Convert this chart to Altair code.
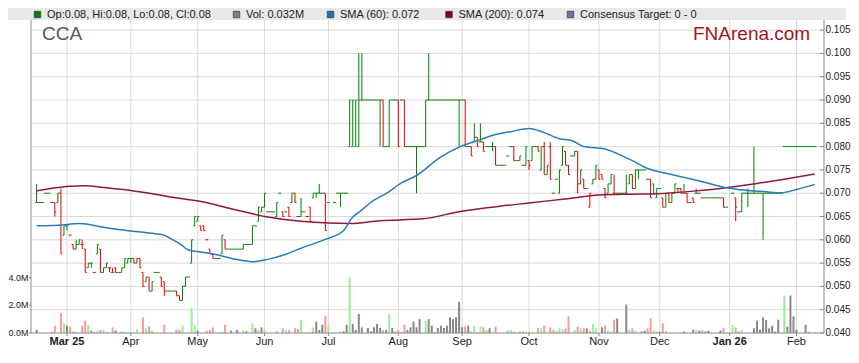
import altair as alt
import pandas as pd

# ---------------- data (prices in thousandths of a dollar, volume in thousands) -------------
START = -10  # weekday index of first bar (0 = 3 Mar 2025)

OPEN = [
    68, 68, 68, 70, 70, 68, 68, 68, 70, 61,
    63, 61, 59, 58, 59, 59, 58, 54, 55, 53,
    57, 58, 53, 54, 54, 53, 54, 53, 53, 54,
    55, 56, 56, 55, 56, 53, 51, 52, 49, 53,
    53, 52, 51, 49, 49, 49, 49, 48, 47, 50,
    52, 55, 63, 64, 63, 63, 60, 58, 57, 56,
    56, 57, 60, 58, 58, 58, 58, 58, 58, 59,
    59, 59, 63, 64, 66, 67, 66, 66, 66, 65,
    70, 66, 66, 67, 68, 70, 65, 65, 66, 65,
    67, 69, 70, 70, 70, 70, 68, None, 68, 70,
    70, 70, 70, 80, 80, 80, 80, 90, 90, 90,
    90, 90, 90, 90, 90, 80, 80, 90, 90, 90,
    90, 90, 80, 80, 80, 80, 80, 80, 80, 90,
    90, 90, 90, 90, 90, 90, 90, 90, 90, 90,
    90, 90, 80, 80, 81, 82, 81, 81, 80, 80,
    80, 80, 76, 76, 76, 78, 80, 80, 77, 77,
    76, 76, 77, 77, 80, 80, 75, 80, 74, 80,
    70, 73, 70, 76, 79, 76, 78, 78, 79, 72,
    73, 71, 67, 72, 73, 75, 74, 71, 70, 72,
    70, 70, 70, 70, 70, 72, 74, 71, 75, 75,
    75, 73, 73, 72, 69, 71, 69, 67, 70, 68,
    70, 71, 71, 70, 70, 68, 69, 70, 70, 69,
    69, 69, 69, 69, 69, 69, 69, 67, None, 70,
    69, 66, 66, 70, 70, 70, 70, 70, 70, 70,
    70, 70, 70, 70, 70, 70, 80, 80, 80, 80,
    80, 80, 80, 80, 80, 80, 80,
]
HIGH = [
    72, 68, 68, 70, 70, 68, 68, 70, 71, 63,
    63, 61, 59, 60, 60, 60, 58, 55, 55, 53,
    59, 58, 54, 55, 54, 54, 54, 53, 54, 56,
    56, 56, 56, 56, 56, 53, 52, 52, 51, 53,
    53, 52, 51, 49, 49, 49, 49, 48, 50, 52,
    52, 60, 65, 65, 63, 63, 60, 58, 57, 56,
    56, 61, 60, 58, 58, 58, 58, 58, 59, 59,
    59, 63, 63, 67, 67, 70, 66, 66, 66, 68,
    70, 66, 66, 67, 70, 70, 65, 69, 66, 65,
    67, 70, 70, 72, 70, 70, 68, None, 68, 70,
    70, 70, 70, 90, 90, 90, 100, 100, 90, 90,
    90, 90, 90, 90, 90, 80, 90, 90, 90, 90,
    90, 90, 80, 80, 80, 80, 80, 80, 90, 100,
    90, 90, 90, 90, 90, 90, 90, 90, 90, 90,
    90, 90, 80, 80, 85, 82, 85, 81, 80, 80,
    81, 80, 76, 76, 76, 78, 80, 80, 77, 78,
    76, 80, 77, 80, 80, 80, 80, 81, 76, 81,
    70, 73, 75, 80, 79, 76, 78, 79, 79, 75,
    73, 71, 70, 73, 76, 75, 74, 71, 72, 74,
    74, 70, 70, 70, 74, 74, 74, 75, 75, 75,
    75, 73, 73, 72, 71, 71, 69, 70, 70, 70,
    72, 71, 71, 72, 70, 68, 69, 71, 70, 69,
    69, 69, 69, 69, 69, 69, 69, 67, None, 70,
    69, 66, 70, 70, 71, 70, 80, 70, 70, 70,
    70, 70, 70, 70, 70, 70, 80, 80, 80, 80,
    80, 80, 80, 80, 80, 80, 80,
]
LOW = [
    68, 68, 68, 70, 70, 68, 65, 68, 57, 61,
    62, 61, 58, 58, 59, 58, 53, 54, 54, 53,
    57, 53, 53, 54, 53, 53, 53, 53, 53, 54,
    55, 55, 55, 55, 54, 50, 51, 49, 49, 53,
    53, 50, 48, 49, 49, 49, 48, 47, 47, 50,
    52, 55, 63, 64, 62, 62, 60, 57, 56, 56,
    56, 57, 58, 58, 58, 58, 58, 58, 58, 59,
    59, 59, 63, 64, 66, 67, 66, 66, 66, 65,
    70, 65, 66, 65, 68, 68, 65, 65, 66, 65,
    64, 69, 69, 70, 70, 62, 68, None, 68, 70,
    67, 70, 70, 80, 80, 80, 80, 90, 90, 90,
    90, 90, 90, 80, 80, 80, 80, 90, 90, 80,
    90, 80, 80, 80, 80, 70, 80, 80, 80, 90,
    90, 90, 90, 90, 90, 90, 90, 90, 90, 80,
    90, 80, 80, 78, 81, 80, 81, 79, 80, 80,
    79, 76, 76, 76, 76, 78, 80, 77, 77, 77,
    76, 76, 75, 77, 80, 79, 75, 74, 74, 73,
    70, 73, 70, 76, 76, 74, 78, 78, 70, 72,
    71, 71, 67, 72, 73, 73, 73, 69, 70, 72,
    70, 70, 70, 70, 70, 72, 71, 71, 73, 75,
    75, 73, 69, 70, 69, 71, 67, 67, 68, 68,
    70, 70, 70, 70, 68, 68, 68, 70, 70, 69,
    69, 69, 69, 69, 69, 69, 67, 67, None, 70,
    64, 66, 66, 70, 67, 70, 70, 70, 70, 60,
    70, 70, 70, 70, 70, 70, 80, 80, 80, 80,
    80, 80, 80, 80, 80, 80, 80,
]
CLOSE = [
    68, 68, 68, 70, 70, 68, 66, 70, 57, 63,
    63, 61, 58, 59, 60, 59, 53, 55, 55, 53,
    59, 53, 54, 55, 54, 53, 53, 53, 54, 56,
    56, 56, 55, 56, 54, 50, 52, 49, 51, 53,
    53, 50, 49, 49, 49, 49, 48, 47, 50, 52,
    52, 60, 65, 65, 62, 62, 60, 57, 56, 56,
    56, 61, 58, 58, 58, 58, 58, 58, 59, 59,
    59, 63, 63, 67, 67, 70, 66, 66, 66, 68,
    70, 65, 66, 65, 70, 68, 65, 66, 66, 65,
    64, 70, 70, 70, 70, 62, 68, None, 68, 70,
    70, 70, 70, 90, 90, 90, 90, 90, 90, 90,
    90, 90, 90, 90, 80, 80, 90, 90, 90, 80,
    90, 80, 80, 80, 80, 80, 80, 80, 90, 90,
    90, 90, 90, 90, 90, 90, 90, 90, 90, 90,
    90, 80, 80, 78, 82, 80, 81, 79, 80, 80,
    80, 76, 76, 76, 76, 78, 80, 77, 77, 78,
    76, 80, 76, 80, 80, 79, 80, 74, 76, 73,
    70, 73, 75, 80, 76, 74, 78, 79, 72, 75,
    71, 71, 70, 73, 76, 73, 73, 69, 72, 74,
    70, 70, 70, 70, 70, 74, 71, 75, 75, 75,
    75, 73, 69, 70, 71, 71, 67, 70, 68, 70,
    72, 71, 70, 70, 68, 68, 68, 70, 70, 69,
    69, 69, 69, 69, 69, 69, 67, 67, None, 70,
    67, 66, 70, 70, 70, 70, 70, 70, 70, 70,
    70, 70, 70, 70, 70, 70, 80, 80, 80, 80,
    80, 80, 80, 80, 80, 80, 80,
]
VOLUME_K = [
    220, 0, 0, 0, 0, 100, 530, 0, 1440, 720,
    530, 460, 100, 100, 0, 530, 890, 600, 170, 70,
    170, 220, 220, 100, 0, 400, 170, 0, 120, 70,
    0, 0, 0, 260, 0, 1130, 340, 500, 170, 0,
    0, 0, 600, 0, 0, 0, 240, 240, 530, 0,
    0, 1850, 530, 170, 0, 0, 170, 220, 400, 0,
    0, 70, 600, 0, 170, 0, 220, 0, 220, 120,
    0, 700, 340, 220, 400, 220, 0, 0, 0, 170,
    0, 340, 220, 220, 0, 340, 290, 940, 0, 0,
    70, 400, 820, 220, 600, 1250, 600, 0, 0, 0,
    70, 120, 600, 4000, 650, 220, 1370, 400, 0, 360,
    120, 410, 650, 360, 220, 220, 1370, 360, 100, 220,
    100, 600, 220, 410, 820, 410, 1000, 0, 890, 1000,
    530, 70, 360, 530, 360, 530, 1130, 1000, 1130, 2260,
    410, 480, 530, 100, 530, 70, 460, 410, 220, 340,
    0, 460, 0, 0, 0, 220, 220, 100, 0, 120,
    120, 70, 70, 0, 0, 360, 340, 530, 0, 410,
    220, 170, 340, 290, 340, 1200, 0, 220, 460, 340,
    340, 340, 170, 650, 340, 0, 410, 530, 170, 100,
    960, 1060, 0, 0, 2050, 240, 340, 170, 0, 100,
    170, 340, 1060, 220, 120, 100, 700, 170, 0, 0,
    0, 0, 0, 100, 0, 0, 240, 240, 170, 220,
    100, 170, 0, 0, 0, 170, 340, 0, 0, 580,
    410, 120, 240, 0, 0, 0, 340, 890, 240, 1130,
    940, 340, 530, 100, 960, 0, 2700, 460, 2700, 1200,
    240, 0, 0, 600, 70, 0, 32,
]

SMA60_I = [-10, -3, 4, 8, 12, 21, 29, 32, 34, 37, 40, 44, 50, 55, 61, 66, 72, 77, 85, 91, 94,
           96, 101, 105, 110, 115, 123, 129, 136, 141, 146, 152, 157, 162, 166, 170, 177, 181,
           186, 191, 197, 205, 210, 216, 224, 230, 235, 240, 246]
SMA60_V = [63.0, 63.1, 63.5, 63.2, 62.7, 61.9, 61.3, 61.0, 60.3, 59.2, 57.8, 57.4, 56.7, 55.9,
           55.3, 55.8, 56.9, 58.2, 60.1, 62.0, 64.9, 65.9, 68.5, 69.9, 72.2, 73.8, 77.8, 79.9,
           81.5, 82.6, 83.2, 83.9, 83.0, 81.7, 81.3, 80.0, 79.5, 78.5, 77.0, 75.3, 74.3, 73.1,
           72.3, 71.3, 70.6, 70.3, 70.1, 70.8, 71.9]
SMA200_I = [-10, -3, 1, 6, 12, 21, 34, 45, 55, 66, 77, 86, 93, 103, 117, 129, 140, 152, 163,
            175, 185, 194, 207, 218, 227, 235, 246]
SMA200_V = [70.5, 71.2, 71.5, 71.6, 71.2, 70.6, 69.2, 68.1, 66.5, 64.9, 64.0, 63.6, 63.5, 64.1,
            64.5, 66.0, 67.0, 67.9, 68.7, 69.6, 69.8, 69.9, 70.5, 71.3, 72.1, 72.9, 74.1]

MONTH_TICKS = [0, 21, 43, 65, 86, 109, 130, 152, 175, 195, 218, 240]
MONTH_LABELS = ["Mar 25", "Apr", "May", "Jun", "Jul", "Aug", "Sep", "Oct", "Nov", "Dec",
                "Jan 26", "Feb"]
PRICE_TICKS = [0.040, 0.045, 0.050, 0.055, 0.060, 0.065, 0.070, 0.075, 0.080, 0.085, 0.090,
               0.095, 0.100, 0.105]
VOL_TICKS = [0, 2000000, 4000000]

LEGEND_LABELS = ["Op:0.08, Hi:0.08, Lo:0.08, Cl:0.08", "Vol: 0.032M", "SMA (60): 0.072",
                 "SMA (200): 0.074", "Consensus Target: 0 - 0"]
LEGEND_COLORS = ["#008000", "#808080", "#1f6fb5", "#800020", "#6f6fa0"]

# ---------------- layout (pixels inside the drawing, which sits at the page's 8px margin) ----
TOTAL_W, TOTAL_H = 843, 340
PL, PR, PT, PB = 23, 816, 12, 325          # plot rectangle
X_DOMAIN = [-10.2, 247.4]
LEGEND_SQ_X = [29.5, 228.5, 322.5, 441, 562.5]
LEGEND_Y = 6.5
FONT = "Liberation Sans"
GRID = "#d9d9d9"
AXC = "#888888"
TXT = "#222222"


def k(v):
    return None if v is None else v / 1000.0


n = len(CLOSE)
df = pd.DataFrame({
    "i": list(range(START, START + n)),
    "o": [k(v) for v in OPEN],
    "h": [k(v) for v in HIGH],
    "l": [k(v) for v in LOW],
    "c": [k(v) for v in CLOSE],
    "v": [v * 1000 for v in VOLUME_K],
})

xs = alt.Scale(domain=X_DOMAIN, range=[PL, PR], nice=False, zero=False)
ps = alt.Scale(domain=[0.040, 0.10717], range=[PB, PT], nice=False, zero=False)
vs = alt.Scale(domain=[0, 22600000], range=[PB, PT], nice=False)

base = (
    alt.Chart(df)
    .transform_filter("isValid(datum.c)")
    .transform_window(pc="lag(c)", sort=[alt.SortField("i")])
    .transform_calculate(
        pcol="(datum.pc == null || datum.c == datum.pc) ? (datum.c >= datum.o ? '#008000' : '#e00000')"
             " : (datum.c > datum.pc ? '#008000' : '#e00000')",
        vcol="datum.pc == null ? '#888888' : (datum.c > datum.pc ? '#99ee99' :"
             " (datum.c < datum.pc ? '#ff9999' : '#888888'))",
        xo="datum.i - 0.5",
        xc="datum.i + 0.5",
    )
)
X = lambda f: alt.X(f, scale=xs, axis=None)
YP = lambda f: alt.Y(f, scale=ps, axis=None)

months = pd.DataFrame({"t": MONTH_TICKS, "lab": MONTH_LABELS})
prices = pd.DataFrame({"p": PRICE_TICKS})
vols = pd.DataFrame({"v": VOL_TICKS})
one = pd.DataFrame({"k": [0]})

vgrid = alt.Chart(months).mark_rule(color=GRID).encode(
    x=X("t:Q"), y=alt.value(PT), y2=alt.value(PB))
hgrid = alt.Chart(prices).transform_filter("datum.p > 0.041").mark_rule(color=GRID).encode(
    y=YP("p:Q"), x=alt.value(PL), x2=alt.value(PR))

vol = base.transform_filter("datum.v > 0").mark_bar(size=2).encode(
    x=X("i:Q"), y=alt.Y("v:Q", scale=vs, axis=None), color=alt.Color("vcol:N", scale=None))

hl = base.mark_rule(strokeWidth=1).encode(
    x=X("i:Q"), y=YP("l:Q"), y2="h:Q", color=alt.Color("pcol:N", scale=None))
op = base.mark_rule(strokeWidth=1).encode(
    x=X("xo:Q"), x2="i:Q", y=YP("o:Q"), color=alt.Color("pcol:N", scale=None))
cl = base.mark_rule(strokeWidth=1).encode(
    x=X("i:Q"), x2="xc:Q", y=YP("c:Q"), color=alt.Color("pcol:N", scale=None))

sma60 = alt.Chart(pd.DataFrame({"i": SMA60_I, "p": [v / 1000 for v in SMA60_V]})).mark_line(
    color="#2b7bbd", strokeWidth=1.5, interpolate="monotone").encode(x=X("i:Q"), y=YP("p:Q"))
sma200 = alt.Chart(pd.DataFrame({"i": SMA200_I, "p": [v / 1000 for v in SMA200_V]})).mark_line(
    color="#8b1a3d", strokeWidth=1.5, interpolate="monotone").encode(x=X("i:Q"), y=YP("p:Q"))

# axis lines and ticks
left_line = alt.Chart(one).mark_rule(color=AXC).encode(
    x=alt.value(PL), y=alt.value(PT), y2=alt.value(PB))
right_line = alt.Chart(one).mark_rule(color=AXC).encode(
    x=alt.value(PR), y=alt.value(PT), y2=alt.value(PB))
bottom_line = alt.Chart(one).mark_rule(color=AXC).encode(
    x=alt.value(PL), x2=alt.value(PR), y=alt.value(PB))
pticks = alt.Chart(prices).mark_rule(color=AXC).encode(
    x=alt.value(PR - 4), x2=alt.value(PR), y=YP("p:Q"))
mticks = alt.Chart(months).mark_rule(color=AXC).encode(
    x=X("t:Q"), y=alt.value(PB), y2=alt.value(PB + 3))
vticks = alt.Chart(vols).mark_rule(color=AXC).encode(
    x=alt.value(PL - 2), x2=alt.value(PL), y=alt.Y("v:Q", scale=vs, axis=None))

# axis labels
mlab_n = alt.Chart(months).transform_filter("!test(/[0-9]/, datum.lab)").mark_text(
    font=FONT, fontSize=11, color=TXT, baseline="alphabetic", align="center").encode(
    x=X("t:Q"), y=alt.value(PB + 12), text="lab:N")
mlab_b = alt.Chart(months).transform_filter("test(/[0-9]/, datum.lab)").mark_text(
    font=FONT, fontSize=11, fontWeight="bold", color=TXT, baseline="alphabetic",
    align="center").encode(x=X("t:Q"), y=alt.value(PB + 12), text="lab:N")
plab = alt.Chart(prices).mark_text(font=FONT, fontSize=10, color=TXT, baseline="middle",
                                   align="left").encode(
    x=alt.value(PR + 1.5), y=YP("p:Q"), text=alt.Text("p:Q", format=".3f"))
vlab = alt.Chart(vols).transform_calculate(
    lab="format(datum.v / 1000000, '.1f') + 'M'").mark_text(
    font=FONT, fontSize=9, color=TXT, baseline="middle", align="right").encode(
    x=alt.value(PL - 2.5), y=alt.Y("v:Q", scale=vs, axis=None), text="lab:N")

# header
band = alt.Chart(one).mark_rect(color="#e8e8e8").encode(
    x=alt.value(0), x2=alt.value(838), y=alt.value(0), y2=alt.value(12))
leg = pd.DataFrame({"label": LEGEND_LABELS, "col": LEGEND_COLORS,
                    "sx": LEGEND_SQ_X, "tx": [s + 9.5 for s in LEGEND_SQ_X]})
leg_sq = alt.Chart(leg).mark_square(size=42, stroke="#444444", strokeWidth=0.8, opacity=1).encode(
    x=alt.X("sx:Q", scale=None), y=alt.value(LEGEND_Y), color=alt.Color("col:N", scale=None))
leg_tx = alt.Chart(leg).mark_text(align="left", baseline="middle", font=FONT, fontSize=11,
                                  color=TXT).encode(
    x=alt.X("tx:Q", scale=None), y=alt.value(LEGEND_Y), text="label:N")
cca = alt.Chart(one).mark_text(text="CCA", align="left", baseline="alphabetic", font=FONT,
                               fontSize=19, color="#4f5a66").encode(
    x=alt.value(34), y=alt.value(32))
fna = alt.Chart(one).mark_text(text="FNArena.com", align="left", baseline="alphabetic",
                               font=FONT, fontSize=19, color="#a3151a").encode(
    x=alt.value(685), y=alt.value(32))

chart = (
    alt.layer(vgrid, hgrid, vol, hl, op, cl, sma200, sma60, left_line, right_line, bottom_line,
              pticks, mticks, vticks, mlab_n, mlab_b, plab, vlab, band, leg_sq, leg_tx, cca, fna)
    .resolve_scale(y="independent")
    .properties(width=TOTAL_W, height=TOTAL_H, padding=0,
                autosize=alt.AutoSizeParams(type="none"))
    .configure_view(strokeWidth=0)
)

chart.save("out.html", embed_options={"renderer": "svg", "actions": False})
